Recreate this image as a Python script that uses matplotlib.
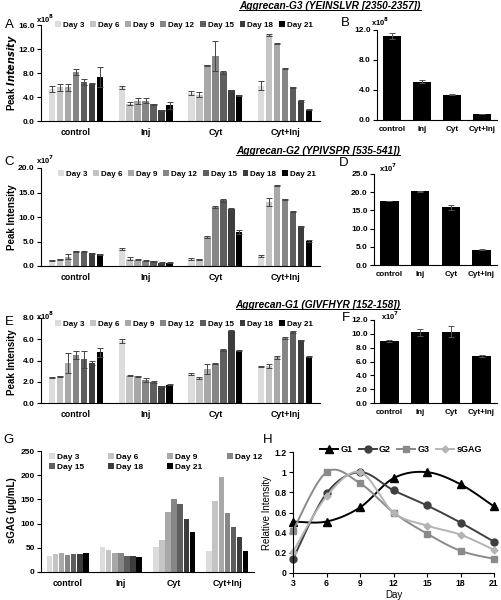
import numpy as np
import matplotlib
matplotlib.use('Agg')
import matplotlib.pyplot as plt
from matplotlib.lines import Line2D
from matplotlib.patches import Patch

plt.rcParams['font.family'] = ['Liberation Sans', 'DejaVu Sans']
plt.rcParams['font.weight'] = 'bold'
plt.rcParams['axes.linewidth'] = 0.8

# ---------------- data ----------------
groups = ['control', 'Inj', 'Cyt', 'Cyt+Inj']
days = ['Day 3', 'Day 6', 'Day 9', 'Day 12', 'Day 15', 'Day 18', 'Day 21']
day_nums = [3, 6, 9, 12, 15, 18, 21]
day_colors = ['#dcdcdc', '#c4c4c4', '#a8a8a8', '#868686', '#5e5e5e', '#3c3c3c', '#000000']

# A: Aggrecan-G3 peak intensity (x10^8), rows = groups, cols = days
a_control = [5.4, 5.6, 5.6, 8.2, 6.5, 6.2, 7.3]
a_inj = [5.6, 2.9, 3.3, 3.4, 2.8, 1.8, 2.6]
a_cyt = [4.7, 4.4, 9.3, 10.8, 8.1, 5.1, 4.3]
a_cytinj = [5.9, 14.3, 12.9, 8.7, 5.6, 3.3, 1.9]
a_err_control = [0.5, 0.6, 0.6, 0.5, 0.5, 0.1, 1.7]
a_err_inj = [0.3, 0.2, 0.5, 0.4, 0.05, 0.05, 0.6]
a_err_cyt = [0.3, 0.4, 0.1, 2.5, 0.2, 0.1, 0.1]
a_err_cytinj = [0.8, 0.2, 0.05, 0.1, 0.1, 0.2, 0.1]

# B: (x10^8)
b_vals = [11.2, 5.1, 3.4, 0.8]
b_err = [0.4, 0.2, 0.1, 0.05]

# C: Aggrecan-G2 (x10^7)
c_control = [1.2, 1.4, 1.9, 3.0, 2.9, 2.6, 2.4]
c_inj = [3.4, 1.5, 1.3, 1.1, 1.0, 0.7, 0.7]
c_cyt = [1.5, 1.4, 5.9, 12.1, 13.4, 11.7, 6.9]
c_cytinj = [2.1, 13.1, 16.4, 13.6, 11.1, 8.1, 5.1]
c_err_control = [0.1, 0.1, 0.5, 0.1, 0.1, 0.1, 0.1]
c_err_inj = [0.2, 0.3, 0.1, 0.1, 0.1, 0.1, 0.1]
c_err_cyt = [0.2, 0.1, 0.2, 0.2, 0.3, 0.2, 0.4]
c_err_cytinj = [0.2, 0.8, 0.1, 0.1, 0.1, 0.1, 0.2]

# D: (x10^7)
d_vals = [17.6, 20.2, 15.8, 4.2]
d_err = [0.1, 0.15, 0.7, 0.1]

# E: Aggrecan-G1 (x10^8)
e_control = [2.44, 2.5, 3.77, 4.54, 4.14, 3.77, 4.77]
e_inj = [5.84, 2.58, 2.5, 2.16, 1.99, 1.59, 1.73]
e_cyt = [2.7, 2.35, 3.2, 3.69, 4.99, 6.8, 4.9]
e_cytinj = [3.45, 3.45, 4.3, 6.15, 6.65, 5.9, 4.35]
e_err_control = [0.05, 0.05, 0.9, 0.4, 0.8, 0.2, 0.45]
e_err_inj = [0.2, 0.05, 0.05, 0.15, 0.1, 0.05, 0.05]
e_err_cyt = [0.1, 0.1, 0.5, 0.05, 0.05, 0.05, 0.05]
e_err_cytinj = [0.05, 0.2, 0.15, 0.1, 0.1, 0.05, 0.05]

# F: (x10^7)
f_vals = [9.0, 10.2, 10.3, 6.8]
f_err = [0.15, 0.5, 0.8, 0.1]

# G: sGAG (ug/mL)
g_control = [33, 37, 39, 36, 38, 37, 39]
g_inj = [51, 45, 40, 40, 33, 33, 30]
g_cyt = [51, 67, 125, 150, 141, 110, 83]
g_cytinj = [43, 147, 197, 121, 93, 73, 44]

# H: relative intensity
h_g1 = [0.51, 0.51, 0.65, 0.94, 1.0, 0.88, 0.66]
h_g2 = [0.14, 0.79, 1.0, 0.82, 0.67, 0.50, 0.31]
h_g3 = [0.42, 1.0, 0.89, 0.60, 0.39, 0.22, 0.14]
h_sgag = [0.21, 0.76, 1.0, 0.60, 0.47, 0.38, 0.23]

yt_a = [0.0, 4.0, 8.0, 12.0, 16.0]
yt_b = [0.0, 4.0, 8.0, 12.0]
yt_c = [0.0, 5.0, 10.0, 15.0, 20.0]
yt_d = [0.0, 5.0, 10.0, 15.0, 20.0, 25.0]
yt_e = [0.0, 2.0, 4.0, 6.0, 8.0]
yt_f = [0.0, 2.0, 4.0, 6.0, 8.0, 10.0, 12.0]
yt_g = [0, 50, 100, 150, 200, 250]
yt_h = [0, 0.2, 0.4, 0.6, 0.8, 1.0, 1.2]
yt_h_labels = ['0', '0.2', '0.4', '0.6', '0.8', '1', '1.2']

W, H = 501, 600
fig = plt.figure(figsize=(W / 100, H / 100), dpi=100)

TICK_FS = 6
CAT_FS = 6.3


def add_ax(left, right, top, bottom):
    return fig.add_axes([left / W, 1 - bottom / H, (right - left) / W, (bottom - top) / H])


def style(ax):
    for s in ['top', 'right']:
        ax.spines[s].set_visible(False)
    ax.tick_params(axis='y', direction='out', length=3, width=0.8, labelsize=TICK_FS, pad=1.5)
    ax.tick_params(axis='x', length=0, labelsize=CAT_FS, pad=5)


def grouped(ax, data, errs, ylim, yticks, fill=0.8, gwidth=0.8):
    n = len(days)
    slot = gwidth / n
    x = np.arange(len(groups))
    for j in range(n):
        vals = [row[j] for row in data]
        pos = x - gwidth / 2 + slot * (j + 0.5)
        kw = {}
        if errs is not None:
            kw = dict(yerr=[e[j] for e in errs], error_kw=dict(ecolor='#444444', elinewidth=0.7,
                                                                capsize=2.0, capthick=0.7))
        ax.bar(pos, vals, width=slot * fill, color=day_colors[j], label=days[j], **kw)
    ax.set_xlim(-0.5, len(groups) - 0.5)
    ax.set_ylim(*ylim)
    ax.set_xticks(x)
    ax.set_xticklabels(groups)
    ax.set_yticks(yticks)
    style(ax)


def single(ax, vals, errs, ylim, yticks):
    x = np.arange(len(groups))
    ax.bar(x, vals, width=0.6, color='black', yerr=errs,
           error_kw=dict(ecolor='#555555', elinewidth=0.7, capsize=2.5, capthick=0.7))
    ax.set_xlim(-0.5, len(groups) - 0.5)
    ax.set_ylim(*ylim)
    ax.set_xticks(x)
    ax.set_xticklabels(groups)
    ax.set_yticks(yticks)
    style(ax)
    ax.tick_params(axis='x', labelsize=5.8, pad=4)


def fmt1(v):
    return ['%.1f' % t for t in v]


def day_legend(ax, xpix, ypix, ncol=7, fs=5.8, colsp=0.75, order=None):
    idx = list(range(len(days))) if order is None else order
    handles = [Patch(facecolor=day_colors[i], edgecolor='none') for i in idx]
    labels = [days[i] for i in idx]
    ax.legend(handles, labels, ncol=ncol, loc='center left', frameon=False,
              bbox_to_anchor=(xpix / W, 1 - ypix / H), bbox_transform=fig.transFigure,
              fontsize=fs, handlelength=0.7, handleheight=0.7, handletextpad=0.25,
              columnspacing=colsp, borderpad=0, borderaxespad=0, labelspacing=0.25)


def ftext(x, y, s, **kw):
    return fig.text(x / W, 1 - y / H, s, **kw)


# ---- A ----
axA = add_ax(41, 320, 25, 121)
grouped(axA, [a_control, a_inj, a_cyt, a_cytinj],
        [a_err_control, a_err_inj, a_err_cyt, a_err_cytinj], (0, 16), yt_a)
axA.set_yticklabels(fmt1(yt_a))
day_legend(axA, 55, 25)
ftext(12, 73, r'Peak $\mathbf{\it{Intensity}}$', rotation=90, ha='center', va='center', fontsize=7)

# ---- B ----
axB = add_ax(377, 497, 30, 120)
single(axB, b_vals, b_err, (0, 12), yt_b)
axB.set_yticklabels(fmt1(yt_b))

# ---- C ----
axC = add_ax(41, 320, 168, 266)
grouped(axC, [c_control, c_inj, c_cyt, c_cytinj],
        [c_err_control, c_err_inj, c_err_cyt, c_err_cytinj], (0, 20), yt_c)
axC.set_yticklabels(fmt1(yt_c))
day_legend(axC, 58, 174)
ftext(12, 217, 'Peak Intensity', rotation=90, ha='center', va='center', fontsize=7)

# ---- D ----
axD = add_ax(374, 497, 174, 265)
single(axD, d_vals, d_err, (0, 25), yt_d)
axD.set_yticklabels(fmt1(yt_d))

# ---- E ----
axE = add_ax(41, 320, 318, 403)
grouped(axE, [e_control, e_inj, e_cyt, e_cytinj],
        [e_err_control, e_err_inj, e_err_cyt, e_err_cytinj], (0, 8), yt_e)
axE.set_yticklabels(fmt1(yt_e))
day_legend(axE, 55, 324)
ftext(12, 362, 'Peak Intensity', rotation=90, ha='center', va='center', fontsize=7)

# ---- F ----
axF = add_ax(374, 497, 320, 403)
single(axF, f_vals, f_err, (0, 12), yt_f)
axF.set_yticklabels(fmt1(yt_f))

# ---- G ----
axG = add_ax(41, 254, 451, 572)
grouped(axG, [g_control, g_inj, g_cyt, g_cytinj], None, (0, 250), yt_g, fill=0.9)
axG.set_yticklabels([str(t) for t in yt_g])
day_legend(axG, 49, 462, ncol=4, fs=6, colsp=2.9, order=[0, 4, 1, 5, 2, 6, 3])
ftext(12, 510, 'sGAG (\u00b5g/mL)', rotation=90, ha='center', va='center', fontsize=7)

# ---- H ----
axH = add_ax(293, 494, 452, 573)


def smooth(xs, ys, n=30):
    xs = np.asarray(xs, float)
    ys = np.asarray(ys, float)
    P = np.column_stack([xs, ys])
    P = np.vstack([P[0], P, P[-1]])
    out = []
    t = np.linspace(0, 1, n)[:, None]
    for i in range(1, len(P) - 2):
        p0, p1, p2, p3 = P[i - 1], P[i], P[i + 1], P[i + 2]
        b1 = p1 + (p2 - p0) / 6
        b2 = p2 - (p3 - p1) / 6
        seg = (1 - t) ** 3 * p1 + 3 * (1 - t) ** 2 * t * b1 + 3 * (1 - t) * t ** 2 * b2 + t ** 3 * p2
        out.append(seg if i == 1 else seg[1:])
    out = np.vstack(out)
    return out[:, 0], out[:, 1]


h_series = [('G1', h_g1, 'black', '^', 5.5), ('G2', h_g2, '#3f3f3f', 'o', 5),
            ('G3', h_g3, '#8a8a8a', 's', 4.5), ('sGAG', h_sgag, '#b4b4b4', 'D', 3.5)]
handles = []
for name, ys, col, mk, ms in h_series:
    sx, sy = smooth(day_nums, ys)
    axH.plot(sx, sy, color=col, lw=1.4, clip_on=False)
    axH.plot(day_nums, ys, ls='none', marker=mk, ms=ms, color=col, clip_on=False)
    handles.append(Line2D([], [], color=col, lw=1.4, marker=mk, ms=ms))
axH.set_xlim(3, 21)
axH.set_ylim(0, 1.2)
axH.set_xticks(day_nums)
axH.set_yticks(yt_h)
axH.set_yticklabels(yt_h_labels)
for s in ['top', 'right']:
    axH.spines[s].set_visible(False)
axH.tick_params(axis='both', direction='out', length=3, width=0.8, labelsize=6.2, pad=1.5)
axH.set_xlabel('Day', fontsize=7, labelpad=1)
axH.set_ylabel('Relative Intensity', fontsize=7, labelpad=2)
axH.legend(handles, ['G1', 'G2', 'G3', 'sGAG'], ncol=4, loc='center left', frameon=False,
           bbox_to_anchor=(320 / W, 1 - 450 / H), bbox_transform=fig.transFigure,
           fontsize=6.5, handlelength=2.0, handletextpad=0.25, columnspacing=0.7,
           borderpad=0, borderaxespad=0)

# ---- panel letters / multipliers ----
for letter, x, y in [('A', 9, 25), ('B', 345, 23), ('C', 9, 162), ('D', 344, 163),
                     ('E', 9, 322), ('F', 346, 318), ('G', 9, 440), ('H', 268, 440)]:
    ftext(x, y, letter, fontsize=9.5, fontweight='normal', ha='center', va='center')
for s, x, y in [(r'x10$^{\mathbf{8}}$', 36, 19), (r'x10$^{\mathbf{8}}$', 371, 22),
                (r'x10$^{\mathbf{7}}$', 36, 160), (r'x10$^{\mathbf{7}}$', 379, 168),
                (r'x10$^{\mathbf{8}}$', 36, 316), (r'x10$^{\mathbf{7}}$', 381, 316)]:
    ftext(x, y, s, fontsize=5.5, ha='left', va='center')

# ---- underlined italic titles ----
titles = []
for s, x, y in [('Aggrecan-G3 (YEINSLVR [2350-2357])', 330, 6),
                ('Aggrecan-G2 (YPIVSPR [535-541])', 318, 151),
                ('Aggrecan-G1 (GIVFHYR [152-158])', 318, 305)]:
    titles.append(ftext(x, y, s, fontsize=7.3, style='italic', ha='center', va='center'))
fig.canvas.draw()
r = fig.canvas.get_renderer()
for t in titles:
    bb = t.get_window_extent(r).transformed(fig.transFigure.inverted())
    fig.add_artist(Line2D([bb.x0, bb.x1], [bb.y0 + 0.001, bb.y0 + 0.001], color='black', lw=0.7,
                          transform=fig.transFigure))

fig.savefig('out.png', dpi=100)
